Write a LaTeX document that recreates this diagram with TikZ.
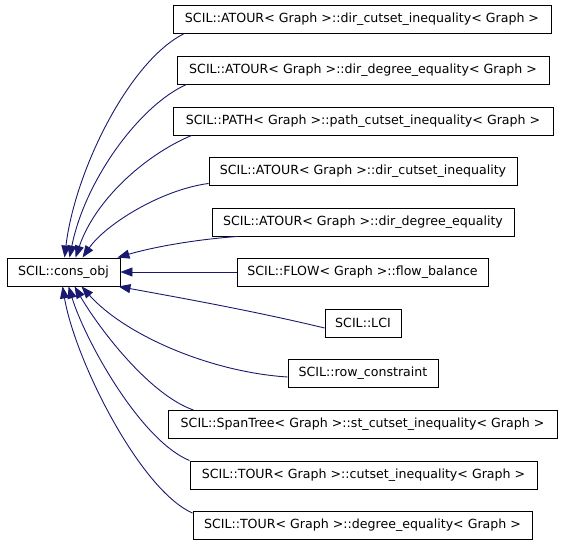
\documentclass[tikz,border=0pt]{standalone}
\usepackage{fontspec}
\setmainfont{DejaVu Sans}
\usetikzlibrary{arrows.meta}
\definecolor{edgec}{RGB}{25,25,112}
\tikzset{
  cbox/.style={draw=black, line width=0.9pt, fill=white, rectangle, inner sep=0pt,
    minimum height=28pt, font=\fontsize{12.6}{14}\selectfont, text=black},
  edge/.style={draw=edgec, line width=0.9pt, -{Triangle[length=12pt,width=9pt]}}
}
\begin{document}
\begin{tikzpicture}[x=1pt,y=-1pt]
\useasboundingbox (0,0) rectangle (563,544);
\node[cbox, minimum width=113pt] (c) at (63.5,272) {SCIL::cons\_obj};
\node[cbox, minimum width=378pt] (b1) at (362,19) {SCIL::ATOUR< Graph >::dir\_cutset\_inequality< Graph >};
\node[cbox, minimum width=372pt] (b2) at (363,70) {SCIL::ATOUR< Graph >::dir\_degree\_equality< Graph >};
\node[cbox, minimum width=380pt] (b3) at (363,121) {SCIL::PATH< Graph >::path\_cutset\_inequality< Graph >};
\node[cbox, minimum width=308pt] (b4) at (363,171) {SCIL::ATOUR< Graph >::dir\_cutset\_inequality};
\node[cbox, minimum width=302pt] (b5) at (363,222) {SCIL::ATOUR< Graph >::dir\_degree\_equality};
\node[cbox, minimum width=251pt] (b6) at (362.5,272) {SCIL::FLOW< Graph >::flow\_balance};
\node[cbox, minimum width=76pt] (b7) at (363,323) {SCIL::LCI};
\node[cbox, minimum width=150pt] (b8) at (363,373.5) {SCIL::row\_constraint};
\node[cbox, minimum width=389pt] (b9) at (362.5,424.5) {SCIL::SpanTree< Graph >::st\_cutset\_inequality< Graph >};
\node[cbox, minimum width=347pt] (b10) at (363.5,475) {SCIL::TOUR< Graph >::cutset\_inequality< Graph >};
\node[cbox, minimum width=339pt] (b11) at (362.5,525.5) {SCIL::TOUR< Graph >::degree\_equality< Graph >};

\draw[edge] ([xshift=12pt]b1.south west) .. controls (130,60) and (75,170) .. ([xshift=58pt]c.north west);
\draw[edge] ([xshift=10pt]b2.south west) .. controls (140,105) and (85,180) .. ([xshift=63pt]c.north west);
\draw[edge] ([xshift=19pt]b3.south west) .. controls (145,155) and (95,200) .. ([xshift=69pt]c.north west);
\draw[edge] ([yshift=2pt]b4.south west) .. controls (160,190) and (105,225) .. ([xshift=76pt]c.north west);
\draw[edge] ([xshift=26pt]b5.south west) .. controls (190,240) and (150,248) .. ([xshift=-3pt]c.north east);
\draw[edge] (b6.west) -- (c.east);
\draw[edge] ([yshift=-5pt]b7.west) .. controls (250,310) and (170,296) .. ([xshift=-2pt]c.south east);
\draw[edge] ([yshift=-3.5pt]b8.west) .. controls (210,372) and (125,335) .. ([xshift=75pt]c.south west);
\draw[edge] ([xshift=26pt]b9.north west) .. controls (150,395) and (100,330) .. ([xshift=68pt]c.south west);
\draw[edge] (b10.north west) .. controls (140,440) and (85,340) .. ([xshift=62pt]c.south west);
\draw[edge] ([yshift=-2pt]b11.north west) .. controls (140,490) and (75,360) .. ([xshift=56pt]c.south west);
\end{tikzpicture}
\end{document}
